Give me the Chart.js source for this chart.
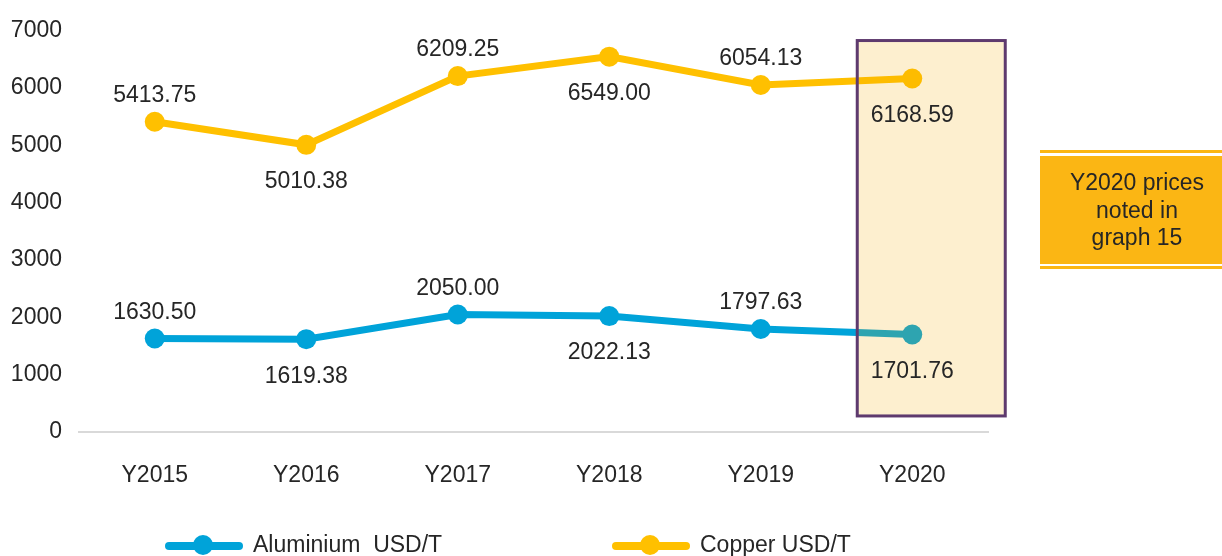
<!DOCTYPE html>
<html><head><meta charset="utf-8">
<script src="https://cdn.jsdelivr.net/npm/chart.js@4"></script>
<style>html,body{margin:0;padding:0;background:#fff;}#wrap{width:1222px;height:556px;position:relative;}</style>
</head><body><div id="wrap"><canvas id="c" width="1222" height="556"></canvas></div>
<script>
const categories = ["Y2015","Y2016","Y2017","Y2018","Y2019","Y2020"];
const aluminium = [1630.50,1619.38,2050.00,2022.13,1797.63,1701.76];
const copper = [5413.75,5010.38,6209.25,6549.00,6054.13,6168.59];
const aluminiumLabel = "Aluminium  USD/T";
const copperLabel = "Copper USD/T";
const yTicks = [0,1000,2000,3000,4000,5000,6000,7000];
const noteLines = ["Y2020 prices","noted in","graph 15"];
const highlightCategory = "Y2020";

const FONT = "'Liberation Sans', Arial, sans-serif";
const TXT = "#262626";
const BLUE = "#00a3d9", YELLOW = "#ffc000";

const overlayPlugin = {
  id: 'overlay',
  afterDatasetsDraw(chart) {
    const ctx = chart.ctx, x = chart.scales.x, y = chart.scales.y;
    const idx = categories.indexOf(highlightCategory);
    const cx = x.getPixelForValue(idx);
    // highlight box
    const left = cx - 55, right = cx + 93, top = y.getPixelForValue(6830), bottom = y.getPixelForValue(280);
    ctx.save();
    ctx.fillStyle = 'rgba(242,168,0,0.19)';
    ctx.fillRect(left, top, right - left, bottom - top);
    ctx.strokeStyle = '#5e3a6e';
    ctx.lineWidth = 3;
    ctx.strokeRect(left, top, right - left, bottom - top);
    // data labels
    ctx.font = "23px " + FONT;
    ctx.fillStyle = TXT;
    ctx.textAlign = 'center';
    ctx.textBaseline = 'middle';
    chart.data.datasets.forEach((ds, di) => {
      const meta = chart.getDatasetMeta(di);
      meta.data.forEach((pt, i) => {
        const off = (i % 2 === 0) ? -26 : 37;
        ctx.fillText(ds.data[i].toFixed(2), pt.x, pt.y + off);
      });
    });
    // note box
    const nx = 1040, nw = 190;
    ctx.fillStyle = '#fbb614';
    ctx.fillRect(nx, 150, nw, 3);
    ctx.fillRect(nx, 156, nw, 108);
    ctx.fillRect(nx, 266, nw, 3);
    ctx.fillStyle = TXT;
    noteLines.forEach((t, i) => ctx.fillText(t, 1137, 184 + i * 27.5));
    // legend
    const items = [[aluminiumLabel, BLUE, 165], [copperLabel, YELLOW, 612]];
    items.forEach(([t, c, lx]) => {
      ctx.strokeStyle = c; ctx.lineWidth = 8; ctx.lineCap = 'round';
      ctx.beginPath(); ctx.moveTo(lx + 4, 546); ctx.lineTo(lx + 74, 546); ctx.stroke();
      ctx.fillStyle = c; ctx.beginPath(); ctx.arc(lx + 38, 545, 10, 0, Math.PI * 2); ctx.fill();
      ctx.fillStyle = TXT; ctx.textAlign = 'left';
      ctx.fillText(t, lx + 88, 546);
    });
    ctx.restore();
  }
};

new Chart(document.getElementById('c'), {
  type: 'line',
  data: {
    labels: categories,
    datasets: [
      { label: aluminiumLabel, data: aluminium, borderColor: BLUE, backgroundColor: BLUE, borderWidth: 7,
        pointRadius: 10, pointHoverRadius: 10, pointBorderWidth: 0, tension: 0 },
      { label: copperLabel, data: copper, borderColor: YELLOW, backgroundColor: YELLOW, borderWidth: 7,
        pointRadius: 10, pointHoverRadius: 10, pointBorderWidth: 0, tension: 0 }
    ]
  },
  options: {
    responsive: false, animation: false,
    layout: { autoPadding: false, padding: { top: 26, right: 234, left: 0, bottom: 0 } },
    plugins: { legend: { display: false }, tooltip: { enabled: false } },
    scales: {
      x: {
        offset: true,
        grid: { display: false, drawTicks: false },
        border: { display: true, color: '#d9d9d9', width: 2 },
        ticks: { font: { size: 23, family: FONT }, color: TXT, padding: 30 },
        afterFit(s) { s.height = 124; }
      },
      y: {
        min: 0, max: 7000,
        afterBuildTicks(s) { s.ticks = yTicks.map(v => ({ value: v })); },
        grid: { display: false, drawTicks: false },
        border: { display: false },
        ticks: { font: { size: 23, family: FONT }, color: TXT, padding: 17, callback: v => String(v) },
        afterFit(s) { s.width = 79; }
      }
    }
  },
  plugins: [overlayPlugin]
});
</script></body></html>
